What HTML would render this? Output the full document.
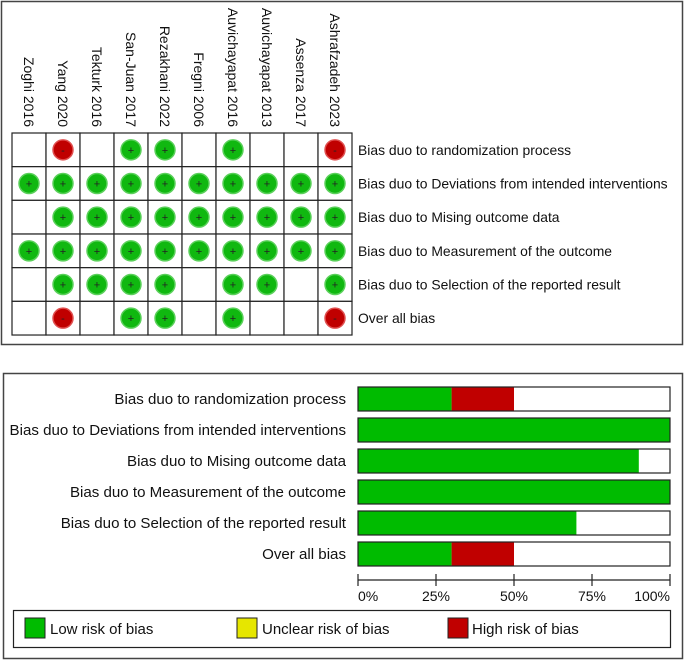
<!DOCTYPE html>
<html><head><meta charset="utf-8"><style>
body{margin:0;background:#fff;}
svg{display:block;font-family:"Liberation Sans",sans-serif;}
</style></head><body>
<svg id="chart" width="685" height="661" xmlns="http://www.w3.org/2000/svg">
<rect x="1.5" y="1.5" width="681" height="343" fill="none" stroke="#444" stroke-width="1.5"/>
<rect x="3.5" y="373.5" width="679" height="285" fill="none" stroke="#444" stroke-width="1.5"/>
<g id="grid"></g>
<g id="graph"></g>
<g>
<rect x="13.5" y="610.5" width="657" height="37" fill="#fff" stroke="#222" stroke-width="1.2"/>
<rect x="25" y="618" width="20" height="20" fill="#00bb00" stroke="#222"/>
<text x="50" y="634" font-size="15" fill="#111">Low risk of bias</text>
<rect x="237" y="618" width="20" height="20" fill="#e6e600" stroke="#222"/>
<text x="262" y="634" font-size="15" fill="#111">Unclear risk of bias</text>
<rect x="448" y="618" width="20" height="20" fill="#c00000" stroke="#222"/>
<text x="472" y="634" font-size="15" fill="#111">High risk of bias</text>
</g>
</svg>
<script>
const studies=["Zoghi 2016","Yang 2020","Tekturk 2016","San-Juan 2017","Rezakhani 2022","Fregni 2006","Auvichayapat 2016","Auvichayapat 2013","Assenza 2017","Ashrafzadeh 2023"];
const domains=["Bias duo to randomization process","Bias duo to Deviations from intended interventions","Bias duo to Mising outcome data","Bias duo to Measurement of the outcome","Bias duo to Selection of the reported result","Over all bias"];
// per domain row, per study: "L" low, "H" high, "" none
const judgments=[
["","H","","L","L","","L","","","H"],
["L","L","L","L","L","L","L","L","L","L"],
["","L","L","L","L","L","L","L","L","L"],
["L","L","L","L","L","L","L","L","L","L"],
["","L","L","L","L","","L","L","","L"],
["","H","","L","L","","L","","","H"]];
const lowPct=[30,100,90,100,70,30];
const unclearPct=[0,0,0,0,0,0];
const highPct=[20,0,0,0,0,20];
const tickLabels=["0%","25%","50%","75%","100%"];
const tickValues=[0,25,50,75,100];

const NS="http://www.w3.org/2000/svg";
function mk(tag,attrs,parent,txt){const e=document.createElementNS(NS,tag);for(const k in attrs)e.setAttribute(k,attrs[k]);if(txt!==undefined)e.textContent=txt;parent.appendChild(e);return e;}
const grid=document.getElementById('grid');
const gx0=12,gy0=133,cw=34,rh=33.67;
const colX=i=>gx0+i*cw, rowY=j=>gy0+j*rh;
studies.forEach((s,i)=>{
 const t=mk('text',{x:0,y:0,'font-size':14,fill:'#111','text-anchor':'end',transform:`translate(${colX(i)+cw/2-5},127) rotate(90)`},grid,s);
 
 
});
domains.forEach((d,j)=>{
 const t=mk('text',{x:358,y:rowY(j)+rh/2+5,'font-size':13.9,fill:'#111'},grid,d);
 
 
 studies.forEach((s,i)=>{
  const c=mk('rect',{x:colX(i),y:rowY(j),width:cw,height:rh,fill:'#fff',stroke:'#222','stroke-width':1.2},grid);
  
  
  const v=judgments[j][i];
  if(v){
   const cx=colX(i)+cw/2,cy=rowY(j)+rh/2;
   const g=mk('g',{},grid);
   
   
   mk('circle',{cx,cy,r:10,fill:v==='L'?'#10b810':'#c00000',stroke:v==='L'?'#5ad05a':'#e05050','stroke-width':1.5},g);
   mk('text',{x:cx,y:cy+4,'font-size':11,'text-anchor':'middle',fill:'#222'},g,v==='L'?'+':'-');
  }
 });
});
const graph=document.getElementById('graph');
const bx0=358,bw=312,by0=387,bh=24,bp=31;
const xs=v=>bx0+v/100*bw;
domains.forEach((d,j)=>{
 const y=by0+j*bp;
 const t=mk('text',{x:346,y:y+bh/2+5,'font-size':15.1,fill:'#111','text-anchor':'end'},graph,d);
 
 
 const bg=mk('rect',{x:bx0,y,width:bw,height:bh,fill:'#fff'},graph);
 
 
 let acc=0;
 [[lowPct[j],'#00bb00','low'],[unclearPct[j],'#e6e600','unclear'],[highPct[j],'#c00000','high']].forEach(([v,col,n])=>{
  if(v>0){const r=mk('rect',{x:xs(acc),y,width:xs(acc+v)-xs(acc),height:bh,fill:col},graph);
   
   }
  acc+=v;
 });
 const o=mk('rect',{x:bx0,y,width:bw,height:bh,fill:'none',stroke:'#222','stroke-width':1.2},graph);
 
 
});
const ax=mk('line',{x1:xs(0),x2:xs(100),y1:580,y2:580,stroke:'#222','stroke-width':1.2},graph);


tickValues.forEach((v,i)=>{
 const tk=mk('line',{x1:xs(v),x2:xs(v),y1:574,y2:586,stroke:'#222','stroke-width':1.2},graph);
 
 
 const anchor=i===0?'start':(i===tickValues.length-1?'end':'middle');
 const t=mk('text',{x:xs(v),y:601,'font-size':14,fill:'#111','text-anchor':anchor},graph,tickLabels[i]);
 
 
});
</script>
</body></html>
